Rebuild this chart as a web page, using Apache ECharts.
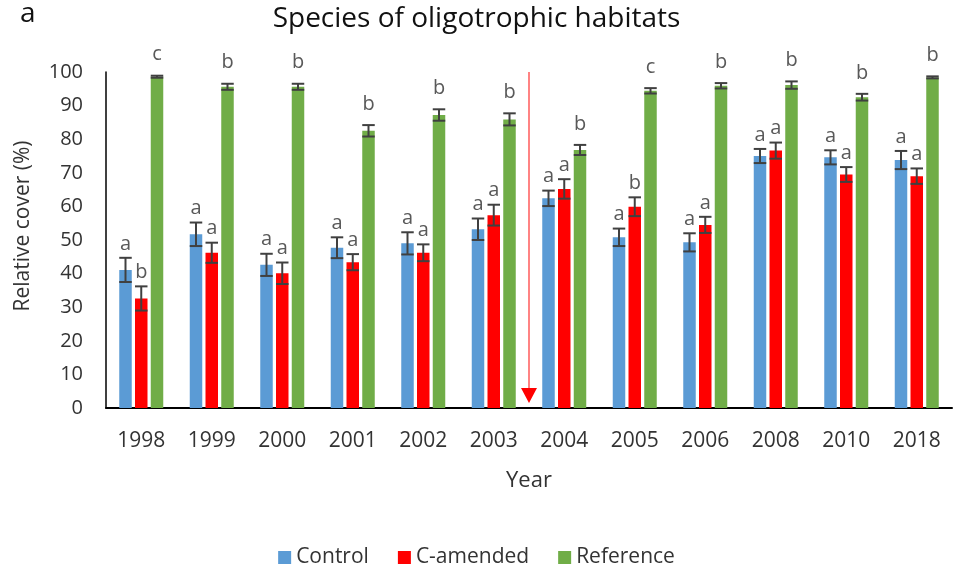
<!DOCTYPE html>
<html>
<head>
<meta charset="utf-8">
<title>Species of oligotrophic habitats</title>
<script src="https://cdn.jsdelivr.net/npm/echarts@6/dist/echarts.min.js"></script>
<style>
  html, body { margin: 0; padding: 0; background: #ffffff; }
  #chart { width: 953px; height: 572px; }
</style>
</head>
<body>
<div id="chart"></div>
<script>
// Survey years (category axis)
const years = ['1998', '1999', '2000', '2001', '2002', '2003', '2004', '2005', '2006', '2008', '2010', '2018'];

// Mean relative cover (%) per treatment
const controlMean   = [41.1, 51.7, 42.6, 47.7, 49.0, 53.2, 62.4, 50.8, 49.3, 75.0, 74.6, 73.8];
const amendedMean   = [32.6, 46.2, 40.1, 43.4, 46.2, 57.4, 65.2, 59.9, 54.5, 76.6, 69.5, 69.0];
const referenceMean = [98.6, 95.6, 95.6, 82.5, 87.2, 85.9, 76.8, 94.4, 95.9, 96.1, 92.5, 98.4];

// Standard errors
const controlErr   = [3.6, 3.5, 3.3, 3.1, 3.3, 3.2, 2.3, 2.6, 2.7, 2.1, 2.1, 2.7];
const amendedErr   = [3.6, 3.0, 3.2, 2.4, 2.5, 3.1, 2.9, 2.8, 2.4, 2.4, 2.2, 2.3];
const referenceErr = [0.3, 0.9, 0.9, 1.7, 1.7, 1.8, 1.5, 0.8, 0.8, 1.1, 1.0, 0.3];

// Significance letters
const controlLetters   = ['a', 'a', 'a', 'a', 'a', 'a', 'a', 'a', 'a', 'a', 'a', 'a'];
const amendedLetters   = ['b', 'a', 'a', 'a', 'a', 'a', 'a', 'b', 'a', 'a', 'a', 'a'];
const referenceLetters = ['c', 'b', 'b', 'b', 'b', 'b', 'b', 'c', 'b', 'b', 'b', 'b'];

// Value axis ticks
const yMin = 0, yMax = 100, yStep = 10;

// Treatment start marker: drawn between these two survey years, spanning these values
const markerYears = ['2003', '2004'];
const markerTop = 100, markerTip = 1.5;

const seriesNames = ['Control', 'C-amended', 'Reference'];
const colors = ['#5B9BD5', '#FF0000', '#70AD47'];
const BAR_W = 12.5;
const BAR_GAP_RATIO = 0.26;
const FONT = '"Open Sans", "Noto Sans", sans-serif';

const means = [controlMean, amendedMean, referenceMean];
const errs = [controlErr, amendedErr, referenceErr];
const letters = [controlLetters, amendedLetters, referenceLetters];

function errorSeries(k) {
  const data = years.map((y, i) => [i, means[k][i], errs[k][i], letters[k][i]]);
  const offset = (k - 1) * BAR_W * (1 + BAR_GAP_RATIO);
  const letterGap = k === 2 ? 11 : 4;
  return {
    type: 'custom',
    name: seriesNames[k] + ' SE',
    z: 5,
    silent: true,
    clip: false,
    data: data,
    encode: { x: 0, y: 1 },
    renderItem: function (params, api) {
      const i = api.value(0);
      const m = api.value(1);
      const e = api.value(2);
      const hi = api.coord([i, m + e]);
      const lo = api.coord([i, m - e]);
      const x = hi[0] + offset;
      const half = BAR_W / 2;
      const st = { stroke: '#404040', lineWidth: 2 };
      return {
        type: 'group',
        children: [
          { type: 'line', shape: { x1: x, y1: hi[1], x2: x, y2: lo[1] }, style: st },
          { type: 'line', shape: { x1: x - half, y1: hi[1], x2: x + half, y2: hi[1] }, style: st },
          { type: 'line', shape: { x1: x - half, y1: lo[1], x2: x + half, y2: lo[1] }, style: st },
          {
            type: 'text',
            style: {
              text: letters[k][i],
              x: x,
              y: hi[1] - letterGap,
              align: 'center',
              verticalAlign: 'bottom',
              fill: '#595959',
              font: '20px ' + FONT
            }
          }
        ]
      };
    }
  };
}

const barSeries = seriesNames.map((name, k) => ({
  type: 'bar',
  name: name,
  data: means[k],
  barWidth: BAR_W,
  barGap: (BAR_GAP_RATIO * 100) + '%',
  itemStyle: { color: colors[k] },
  z: 2
}));

const chart = echarts.init(document.getElementById('chart'), null, { renderer: 'canvas' });

chart.setOption({
  animation: false,
  backgroundColor: '#ffffff',
  textStyle: { fontFamily: FONT },
  title: {
    text: 'Species of oligotrophic habitats',
    left: 'center',
    top: 0,
    textStyle: { fontSize: 28, fontWeight: 'normal', color: '#111111', fontFamily: FONT }
  },
  legend: {
    data: seriesNames,
    left: 'center',
    top: 542,
    icon: 'rect',
    itemWidth: 13,
    itemHeight: 13,
    itemGap: 29,
    textStyle: { fontSize: 21, color: '#333333', fontFamily: FONT }
  },
  grid: { left: 106, right: 1, top: 72, bottom: 164 },
  xAxis: {
    type: 'category',
    data: years,
    name: 'Year',
    nameLocation: 'middle',
    nameGap: 62,
    nameTextStyle: { fontSize: 22, color: '#333333', fontFamily: FONT },
    axisLine: { lineStyle: { color: '#000000', width: 2 } },
    axisTick: { show: false },
    axisLabel: { fontSize: 21, color: '#333333', margin: 23, fontFamily: FONT },
    splitLine: { show: false }
  },
  yAxis: {
    type: 'value',
    min: yMin,
    max: yMax,
    interval: yStep,
    axisLine: { show: true, lineStyle: { color: '#000000', width: 1.5 } },
    axisTick: { show: false },
    axisLabel: { fontSize: 20, color: '#333333', margin: 23, fontFamily: FONT },
    splitLine: { show: false }
  },
  series: barSeries.concat([errorSeries(0), errorSeries(1), errorSeries(2)])
});

// Panel letter, y-axis title and the treatment-start arrow
const pA = chart.convertToPixel({ xAxisIndex: 0, yAxisIndex: 0 }, [markerYears[0], markerTop]);
const pB = chart.convertToPixel({ xAxisIndex: 0, yAxisIndex: 0 }, [markerYears[1], markerTop]);
const pTip = chart.convertToPixel({ xAxisIndex: 0, yAxisIndex: 0 }, [markerYears[0], markerTip]);
const ax = (pA[0] + pB[0]) / 2;
const headH = 15, headW = 16;

chart.setOption({
  graphic: [
    {
      type: 'text',
      left: 20,
      top: 0,
      style: { text: 'a', font: '28px ' + FONT, fill: '#111111' }
    },
    {
      type: 'text',
      x: 23,
      y: 226,
      rotation: Math.PI / 2,
      style: {
        text: 'Relative cover (%)',
        font: '21px ' + FONT,
        fill: '#333333',
        align: 'center',
        verticalAlign: 'middle'
      }
    },
    {
      type: 'line',
      shape: { x1: ax, y1: pA[1], x2: ax, y2: pTip[1] - headH },
      style: { stroke: '#FF5A5A', lineWidth: 1.5 },
      z: 10
    },
    {
      type: 'polygon',
      shape: { points: [[ax - headW / 2, pTip[1] - headH], [ax + headW / 2, pTip[1] - headH], [ax, pTip[1]]] },
      style: { fill: '#FF0000' },
      z: 10
    }
  ]
});
</script>
</body>
</html>
